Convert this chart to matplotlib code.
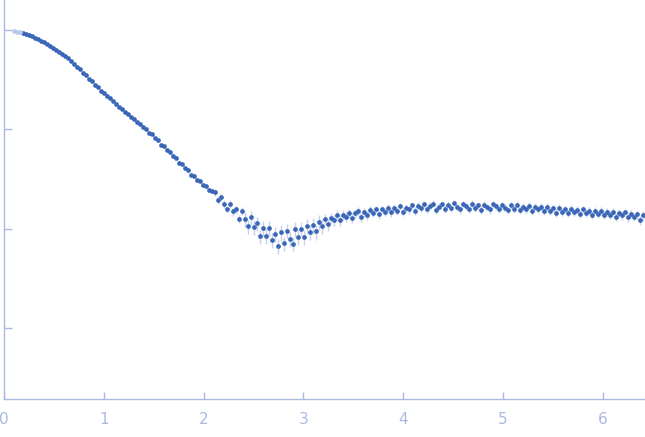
import matplotlib
matplotlib.use("Agg")
import matplotlib.pyplot as plt
from matplotlib.ticker import FixedLocator, NullLocator, NullFormatter

# scattering vector (1/nm) and intensity
q = [0.10, 0.13, 0.16, 0.19, 0.22, 0.25, 0.28, 0.31, 0.34, 0.37,
     0.40, 0.43, 0.46, 0.49, 0.52, 0.55, 0.58, 0.61, 0.64, 0.67,
     0.70, 0.73, 0.76, 0.79, 0.82, 0.85, 0.88, 0.91, 0.94, 0.97,
     1.00, 1.03, 1.06, 1.09, 1.12, 1.15, 1.18, 1.21, 1.24, 1.27,
     1.30, 1.33, 1.36, 1.39, 1.42, 1.45, 1.48, 1.51, 1.54, 1.57,
     1.60, 1.63, 1.66, 1.69, 1.72, 1.75, 1.78, 1.81, 1.84, 1.87,
     1.90, 1.93, 1.96, 1.99, 2.02, 2.05, 2.08, 2.11, 2.14, 2.17,
     2.20, 2.23, 2.26, 2.29, 2.32, 2.35, 2.38, 2.41, 2.44, 2.47,
     2.50, 2.53, 2.56, 2.59, 2.62, 2.65, 2.68, 2.71, 2.74, 2.77,
     2.80, 2.83, 2.86, 2.89, 2.92, 2.95, 2.98, 3.01, 3.04, 3.07,
     3.10, 3.13, 3.16, 3.19, 3.22, 3.25, 3.28, 3.31, 3.34, 3.37,
     3.40, 3.43, 3.46, 3.49, 3.52, 3.55, 3.58, 3.61, 3.64, 3.67,
     3.70, 3.73, 3.76, 3.79, 3.82, 3.85, 3.88, 3.91, 3.94, 3.97,
     4.00, 4.03, 4.06, 4.09, 4.12, 4.15, 4.18, 4.21, 4.24, 4.27,
     4.30, 4.33, 4.36, 4.39, 4.42, 4.45, 4.48, 4.51, 4.54, 4.57,
     4.60, 4.63, 4.66, 4.69, 4.72, 4.75, 4.78, 4.81, 4.84, 4.87,
     4.90, 4.93, 4.96, 4.99, 5.02, 5.05, 5.08, 5.11, 5.14, 5.17,
     5.20, 5.23, 5.26, 5.29, 5.32, 5.35, 5.38, 5.41, 5.44, 5.47,
     5.50, 5.53, 5.56, 5.59, 5.62, 5.65, 5.68, 5.71, 5.74, 5.77,
     5.80, 5.83, 5.86, 5.89, 5.92, 5.95, 5.98, 6.01, 6.04, 6.07,
     6.10, 6.13, 6.16, 6.19, 6.22, 6.25, 6.28, 6.31, 6.34, 6.37,
     6.40]

intensity = [0.977, 0.962, 0.944, 0.926, 0.913, 0.895, 0.872, 0.836, 0.809, 0.775,
             0.749, 0.717, 0.695, 0.659, 0.634, 0.602, 0.578, 0.549, 0.518, 0.483,
             0.455, 0.424, 0.401, 0.372, 0.350, 0.323, 0.304, 0.281, 0.265, 0.246,
             0.233, 0.216, 0.206, 0.191, 0.182, 0.169, 0.161, 0.150, 0.144, 0.133,
             0.128, 0.119, 0.114, 0.106, 0.102, 0.0930, 0.0898, 0.0815, 0.0780, 0.0705,
             0.0682, 0.0615, 0.0596, 0.0536, 0.0520, 0.0464, 0.0452, 0.0408, 0.0392, 0.0352,
             0.0343, 0.0309, 0.0304, 0.0277, 0.0272, 0.0244, 0.0241, 0.0233, 0.0196, 0.0208,
             0.0178, 0.0158, 0.0179, 0.0150, 0.0157, 0.0127, 0.0151, 0.0126, 0.0106, 0.0131,
             0.0105, 0.0114, 0.0084, 0.0102, 0.00853, 0.0103, 0.00772, 0.00887, 0.00674, 0.00925,
             0.00718, 0.00964, 0.00793, 0.00714, 0.0100, 0.00826, 0.0101, 0.00831, 0.0108, 0.0093,
             0.0109, 0.00943, 0.0118, 0.0108, 0.0126, 0.0111, 0.0130, 0.0123, 0.0139, 0.0123,
             0.0139, 0.0132, 0.0145, 0.0130, 0.0144, 0.0151, 0.0132, 0.0147, 0.0138, 0.0156,
             0.0145, 0.0158, 0.0140, 0.0158, 0.0148, 0.0163, 0.0147, 0.0161, 0.0151, 0.0169,
             0.0149, 0.0163, 0.0157, 0.0173, 0.0151, 0.0172, 0.0161, 0.0178, 0.0160, 0.0171,
             0.0180, 0.0156, 0.0168, 0.0179, 0.0160, 0.0175, 0.0162, 0.0183, 0.0166, 0.0157,
             0.0177, 0.0170, 0.0158, 0.0180, 0.0163, 0.0173, 0.0155, 0.0175, 0.0165, 0.0157,
             0.0177, 0.0169, 0.0158, 0.0173, 0.0164, 0.0154, 0.0173, 0.0160, 0.0175, 0.0155,
             0.0167, 0.0157, 0.0172, 0.0152, 0.0168, 0.0158, 0.0168, 0.0151, 0.0167, 0.0153,
             0.0162, 0.0145, 0.0164, 0.0148, 0.0157, 0.0144, 0.0160, 0.0147, 0.0156, 0.0143,
             0.0159, 0.0144, 0.0152, 0.0139, 0.0153, 0.0142, 0.0152, 0.0138, 0.0148, 0.0138,
             0.0149, 0.0132, 0.0144, 0.0137, 0.0147, 0.0131, 0.0141, 0.0132, 0.0140, 0.0123,
             0.0137]

error = [0.0078, 0.0077, 0.0076, 0.0074, 0.0073, 0.0072, 0.0070, 0.0067, 0.0065, 0.0062,
         0.0060, 0.0057, 0.0056, 0.0053, 0.0051, 0.0048, 0.0046, 0.0044, 0.0041, 0.0039,
         0.0036, 0.0034, 0.0032, 0.0030, 0.0028, 0.0026, 0.0024, 0.0022, 0.0021, 0.0020,
         0.0035, 0.0032, 0.0031, 0.0029, 0.0027, 0.0025, 0.0024, 0.0023, 0.0022, 0.0020,
         0.0019, 0.0018, 0.0017, 0.0016, 0.0015, 0.0014, 0.0013, 0.0012, 0.0012, 0.0011,
         0.0024, 0.0022, 0.0021, 0.0019, 0.0018, 0.0016, 0.0016, 0.0014, 0.0014, 0.0012,
         0.0012, 0.0011, 0.0011, 0.00097, 0.00095, 0.00085, 0.00084, 0.0021, 0.0018, 0.0019,
         0.0016, 0.0014, 0.0016, 0.0014, 0.0014, 0.0011, 0.0014, 0.0021, 0.0018, 0.0022,
         0.0018, 0.0019, 0.0014, 0.0017, 0.0015, 0.0018, 0.0013, 0.0015, 0.0011, 0.0016,
         0.0012, 0.0016, 0.0013, 0.0012, 0.0017, 0.0014, 0.0017, 0.0014, 0.0018, 0.0016,
         0.0019, 0.0016, 0.0020, 0.0018, 0.0015, 0.0015, 0.0015, 0.0015, 0.0015, 0.0015,
         0.0015, 0.0015, 0.0015, 0.0015, 0.0015, 0.0015, 0.0014, 0.0014, 0.0014, 0.0014,
         0.0014, 0.0014, 0.0014, 0.0014, 0.0014, 0.0014, 0.0014, 0.0014, 0.0014, 0.0014,
         0.0014, 0.0014, 0.0014, 0.0014, 0.0014, 0.0014, 0.0014, 0.0014, 0.0014, 0.0014,
         0.0014, 0.0014, 0.0014, 0.0014, 0.0014, 0.0014, 0.0014, 0.0014, 0.0014, 0.0014,
         0.0014, 0.0014, 0.0014, 0.0014, 0.0014, 0.0014, 0.0014, 0.0014, 0.0014, 0.0014,
         0.0014, 0.0014, 0.0014, 0.0014, 0.0014, 0.0014, 0.0014, 0.0014, 0.0014, 0.0014,
         0.0014, 0.0014, 0.0014, 0.0014, 0.0014, 0.0014, 0.0014, 0.0014, 0.0014, 0.0014,
         0.0014, 0.0013, 0.0013, 0.0013, 0.0013, 0.0013, 0.0013, 0.0013, 0.0013, 0.0013,
         0.0013, 0.0013, 0.0013, 0.0013, 0.0013, 0.0013, 0.0013, 0.0013, 0.0013, 0.0013,
         0.0013, 0.0013, 0.0013, 0.0013, 0.0013, 0.0013, 0.0013, 0.0013, 0.0013, 0.0013,
         0.0013]

n_excluded = 3  # first points drawn pale
x_ticks = [0, 1, 2, 3, 4, 5, 6]
y_ticks = [1, 0.1, 0.01, 0.001]

axis_color = "#a9bbe0"
point_color = "#3a66b8"
bar_color = "#c3d1ec"

fig = plt.figure(figsize=(6.45, 4.37), dpi=100)
ax = fig.add_axes([4 / 645, 1 - 399 / 437, 641 / 645, 399 / 437])

ax.errorbar(q[n_excluded:], intensity[n_excluded:], yerr=error[n_excluded:],
            fmt="none", ecolor=bar_color, elinewidth=1, zorder=1)
ax.plot(q[n_excluded:], intensity[n_excluded:], "o", ms=3.4, mew=0,
        color=point_color, zorder=2)
ax.plot(q[:n_excluded], intensity[:n_excluded], "o", ms=3.4, mew=0,
        color="#b9c9ea", zorder=2)

ax.set_yscale("log")
ax.set_xlim(0, 6.421)
ax.set_ylim(1.955e-4, 2.0)

ax.xaxis.set_major_locator(FixedLocator(x_ticks))
ax.yaxis.set_major_locator(FixedLocator(y_ticks))
ax.yaxis.set_minor_locator(NullLocator())
ax.yaxis.set_major_formatter(NullFormatter())
ax.yaxis.set_minor_formatter(NullFormatter())

for side in ["top", "right"]:
    ax.spines[side].set_visible(False)
for side in ["left", "bottom"]:
    ax.spines[side].set_color(axis_color)
    ax.spines[side].set_linewidth(1)

ax.tick_params(axis="x", direction="in", length=5, width=1, color=axis_color,
               labelcolor=axis_color, labelsize=11, pad=9)
ax.tick_params(axis="y", direction="in", length=6, width=1, color=axis_color)

fig.savefig("out.png", dpi=100)
